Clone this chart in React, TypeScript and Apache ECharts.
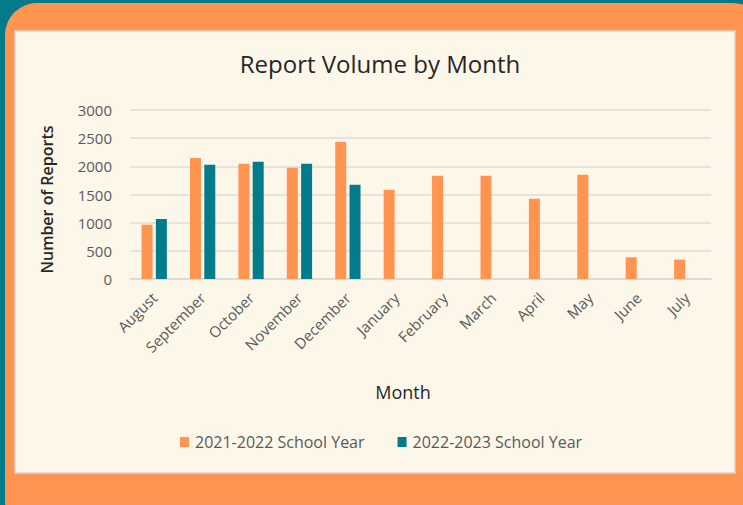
import React, { useEffect, useRef } from "react";
import * as echarts from "echarts";

const months = ["August", "September", "October", "November", "December", "January", "February", "March", "April", "May", "June", "July"];
const year2122 = [965, 2150, 2045, 1975, 2430, 1585, 1835, 1835, 1425, 1850, 385, 345];
const year2223: (number | null)[] = [1065, 2030, 2080, 2045, 1675, null, null, null, null, null, null, null];
const seriesNames = ["2021-2022 School Year", "2022-2023 School Year"];
const yTicks = { min: 0, max: 3000, interval: 500 };

const FONT = "'Open Sans', 'Noto Sans', sans-serif";

export default function App() {
  const ref = useRef<HTMLDivElement>(null);
  useEffect(() => {
    const chart = echarts.init(ref.current!, null, { renderer: "svg" });
    chart.setOption({
      animation: false,
      backgroundColor: "#037b8b",
      textStyle: { fontFamily: FONT },
      graphic: [
        { type: "rect", z: -10, silent: true, shape: { x: 5, y: 3, width: 760, height: 530, r: 32 }, style: { fill: "#ff9551" } },
        { type: "rect", z: -9, silent: true, shape: { x: 15, y: 31, width: 720, height: 442 }, style: { fill: "#fdf7ea", stroke: "#d6d3cc", lineWidth: 1.5 } },
      ],
      title: [
        { text: "Report Volume by Month", left: 375, top: 46, textAlign: "center", textStyle: { fontFamily: FONT, fontSize: 24, fontWeight: "normal", color: "#262626" } },
        { text: "Month", left: 398, top: 378, textAlign: "center", textStyle: { fontFamily: FONT, fontSize: 18, fontWeight: "normal", color: "#262626" } },
      ],
      legend: {
        left: 175,
        top: 429,
        itemWidth: 9,
        itemHeight: 10,
        itemGap: 33,
        icon: "rect",
        textStyle: { fontFamily: FONT, fontSize: 16, color: "#595959", padding: [0, 0, 0, 1] },
        data: seriesNames,
      },
      grid: { left: 130, right: 32, top: 110, bottom: 226, containLabel: false },
      xAxis: {
        type: "category",
        data: months,
        axisTick: { show: false },
        axisLine: { lineStyle: { color: "#d9d9d9", width: 1.5 } },
        axisLabel: { rotate: 45, color: "#595959", fontSize: 15, fontFamily: FONT, margin: 16, interval: 0 },
      },
      yAxis: {
        type: "value",
        min: yTicks.min,
        max: yTicks.max,
        interval: yTicks.interval,
        name: "Number of Reports",
        nameLocation: "middle",
        nameGap: 75,
        nameTextStyle: { fontFamily: FONT, fontSize: 16, fontWeight: 600, color: "#262626", padding: [0, 10, 0, 0] },
        axisLine: { show: false },
        axisTick: { show: false },
        axisLabel: { color: "#595959", fontSize: 15, fontFamily: FONT, margin: 18, formatter: (v: number) => String(v) },
        splitLine: { lineStyle: { color: "#dcdcdc", width: 1.5 } },
      },
      series: [
        { name: seriesNames[0], type: "bar", data: year2122, barWidth: 11, barGap: "30%", itemStyle: { color: "#ff9551" } },
        { name: seriesNames[1], type: "bar", data: year2223, barWidth: 11, barGap: "30%", itemStyle: { color: "#037b8b" } },
      ],
    });
    return () => chart.dispose();
  }, []);
  return <div ref={ref} style={{ position: "absolute", left: 0, top: 0, width: 743, height: 505 }} />;
}
